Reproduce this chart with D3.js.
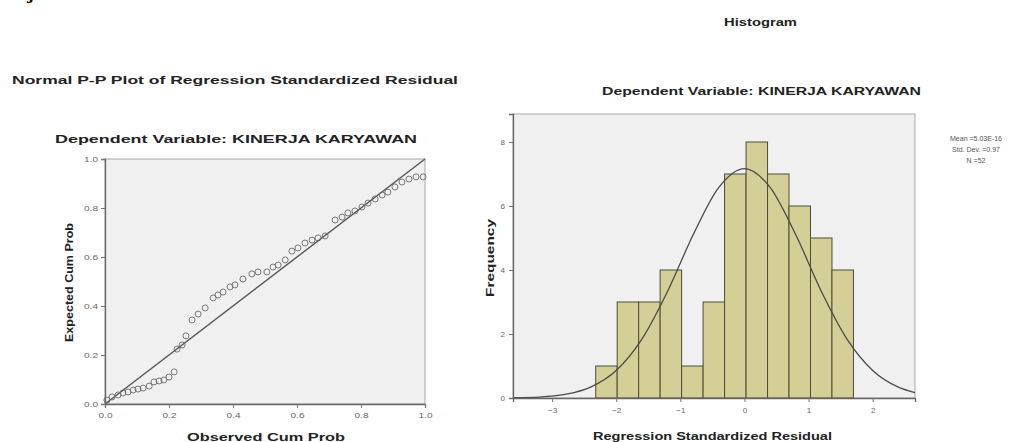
<!DOCTYPE html>
<html>
<head>
<meta charset="utf-8">
<script src="https://cdn.jsdelivr.net/npm/d3@7"></script>
<style>
  body { margin: 0; background: #fff; }
  svg { display: block; font-family: "Liberation Sans", Arial, sans-serif; }
</style>
</head>
<body>
<svg id="chart" width="1023" height="442"></svg>
<script>
// P-P plot points (observed cum prob, expected cum prob)
const ppObserved = [0.006, 0.022, 0.041, 0.056, 0.072, 0.088, 0.103, 0.119, 0.138, 0.153,
  0.169, 0.184, 0.200, 0.216, 0.225, 0.241, 0.253, 0.272, 0.291, 0.313,
  0.338, 0.353, 0.369, 0.391, 0.406, 0.431, 0.459, 0.478, 0.506, 0.525,
  0.541, 0.563, 0.584, 0.603, 0.625, 0.647, 0.666, 0.688, 0.719, 0.741,
  0.759, 0.781, 0.803, 0.822, 0.844, 0.866, 0.884, 0.906, 0.928, 0.950,
  0.972, 0.994];
const ppExpected = [0.016, 0.029, 0.037, 0.045, 0.049, 0.057, 0.061, 0.065, 0.073, 0.090,
  0.094, 0.098, 0.110, 0.131, 0.224, 0.241, 0.278, 0.343, 0.367, 0.392,
  0.433, 0.445, 0.457, 0.478, 0.486, 0.510, 0.531, 0.539, 0.539, 0.559,
  0.567, 0.588, 0.624, 0.637, 0.657, 0.669, 0.678, 0.686, 0.751, 0.763,
  0.780, 0.788, 0.804, 0.820, 0.837, 0.853, 0.865, 0.886, 0.906, 0.918,
  0.927, 0.927];
const ppTicks = [0.0, 0.2, 0.4, 0.6, 0.8, 1.0];

// histogram bins
const binEdges = [-2.32, -1.985, -1.65, -1.315, -0.98, -0.645, -0.31, 0.025, 0.36, 0.695, 1.03, 1.365, 1.70];
const binCounts = [1, 3, 3, 4, 1, 3, 7, 8, 7, 6, 5, 4];
const histXTicks = [-3, -2, -1, 0, 1, 2];
const histYTicks = [0, 2, 4, 6, 8];

// normal curve
const curveX = [-3.61, -3.2, -2.8, -2.4, -2.0, -1.6, -1.2, -0.8, -0.4, 0, 0.4, 0.8, 1.2, 1.6, 2.0, 2.4, 2.66];
const curveY = [0.01, 0.03, 0.11, 0.34, 0.86, 1.84, 3.33, 5.10, 6.58, 7.17, 6.58, 5.10, 3.33, 1.84, 0.86, 0.34, 0.17];

const legendLines = ["Mean =5.03E-16", "Std. Dev. =0.97", "N =52"];

const svg = d3.select("#chart");
svg.append("rect").attr("width", 1023).attr("height", 442).attr("fill", "#fff");

function label(txt, x, y, size, width, opts) {
  opts = opts || {};
  const t = svg.append("text")
    .attr("x", x).attr("y", y)
    .attr("font-size", size)
    .attr("font-weight", opts.weight || "bold")
    .attr("fill", opts.fill || "#222")
    .attr("text-anchor", opts.anchor || "start")
    .text(txt);
  if (width) t.attr("textLength", width).attr("lengthAdjust", "spacingAndGlyphs");
  if (opts.rotate) t.attr("transform", "rotate(-90," + x + "," + y + ")");
  if (opts.family) t.attr("font-family", opts.family);
  return t;
}

// heading cut off by the top edge, as in the source
label("Uji Normalitas", 14, -1, 16, null, { family: "DejaVu Serif", fill: "#111" });

// ---------- P-P plot ----------
const px = d3.scaleLinear().domain([0, 1]).range([105, 425]);
const py = d3.scaleLinear().domain([0, 1]).range([404, 159]);

svg.append("rect")
  .attr("x", px(0)).attr("y", py(1))
  .attr("width", px(1) - px(0)).attr("height", py(0) - py(1))
  .attr("fill", "#f0f0f0").attr("stroke", "#a8a8a8");

svg.append("line")
  .attr("x1", px(0)).attr("y1", py(0)).attr("x2", px(1)).attr("y2", py(1))
  .attr("stroke", "#555").attr("stroke-width", 1.4);

svg.append("g").selectAll("circle")
  .data(ppObserved)
  .enter().append("circle")
  .attr("cx", d => px(d))
  .attr("cy", (d, i) => py(ppExpected[i]))
  .attr("r", 3)
  .attr("fill", "none")
  .attr("stroke", "#6a6a6a")
  .attr("stroke-width", 0.9);

const ppXAxis = svg.append("g")
  .attr("transform", "translate(0," + py(0) + ")")
  .call(d3.axisBottom(px).tickValues(ppTicks).tickFormat(d3.format(".1f")).tickSize(4).tickPadding(4));
const ppYAxis = svg.append("g")
  .attr("transform", "translate(" + px(0) + ",0)")
  .call(d3.axisLeft(py).tickValues(ppTicks).tickFormat(d3.format(".1f")).tickSize(4).tickPadding(3));
[ppXAxis, ppYAxis].forEach(a => {
  a.select(".domain").attr("stroke", "#666").attr("stroke-width", 1.3);
  a.selectAll(".tick line").attr("stroke", "#777");
  a.selectAll("text").attr("font-size", 8).attr("fill", "#666")
    .attr("textLength", 14).attr("lengthAdjust", "spacingAndGlyphs")
    .attr("font-family", "Liberation Sans, Arial, sans-serif");
});

label("Normal P-P Plot of Regression Standardized Residual", 12, 84, 11.5, 446);
label("Dependent Variable: KINERJA KARYAWAN", 55, 143, 11, 362);
label("Observed Cum Prob", 187, 441, 11.5, 158);
label("Expected Cum Prob", 73, 342, 11, 119, { rotate: true });

// ---------- Histogram ----------
const hx = d3.scaleLinear().domain([-3.61, 2.66]).range([513, 915]);
const hy = d3.scaleLinear().domain([0, 8.875]).range([398, 114]);

svg.append("rect")
  .attr("x", hx(-3.61)).attr("y", hy(8.875))
  .attr("width", hx(2.66) - hx(-3.61)).attr("height", hy(0) - hy(8.875))
  .attr("fill", "#f0f0f0").attr("stroke", "#a8a8a8");

svg.append("g").selectAll("rect")
  .data(binCounts)
  .enter().append("rect")
  .attr("x", (d, i) => hx(binEdges[i]))
  .attr("y", d => hy(d))
  .attr("width", (d, i) => hx(binEdges[i + 1]) - hx(binEdges[i]))
  .attr("height", d => hy(0) - hy(d))
  .attr("fill", "#d4cf96")
  .attr("stroke", "#4f4c34")
  .attr("stroke-width", 1);

svg.append("path")
  .datum(curveX)
  .attr("fill", "none")
  .attr("stroke", "#4a4a4a")
  .attr("stroke-width", 1.3)
  .attr("d", d3.line()
    .x(d => hx(d))
    .y((d, i) => hy(curveY[i]))
    .curve(d3.curveMonotoneX));

const hXAxis = svg.append("g")
  .attr("transform", "translate(0," + hy(0) + ")")
  .call(d3.axisBottom(hx).tickValues(histXTicks).tickFormat(d3.format("d")).tickSize(4).tickPadding(5));
const hYAxis = svg.append("g")
  .attr("transform", "translate(" + hx(-3.61) + ",0)")
  .call(d3.axisLeft(hy).tickValues(histYTicks).tickFormat(d3.format("d")).tickSize(4).tickPadding(4));
[hXAxis, hYAxis].forEach(a => {
  a.select(".domain").attr("stroke", "#666").attr("stroke-width", 1.3);
  a.selectAll(".tick line").attr("stroke", "#777");
  a.selectAll("text").attr("font-size", 8).attr("fill", "#666")
    .attr("font-family", "Liberation Sans, Arial, sans-serif");
});

label("Histogram", 724, 26, 11, 73);
label("Dependent Variable: KINERJA KARYAWAN", 602, 95, 11, 319);
label("Regression Standardized Residual", 593, 440, 11.5, 239);
label("Frequency", 494, 297, 11, 78, { rotate: true });

svg.append("g").selectAll("text")
  .data(legendLines)
  .enter().append("text")
  .attr("x", 976)
  .attr("y", (d, i) => 141 + i * 11)
  .attr("text-anchor", "middle")
  .attr("font-size", 7)
  .attr("fill", "#555")
  .text(d => d);
</script>
</body>
</html>
